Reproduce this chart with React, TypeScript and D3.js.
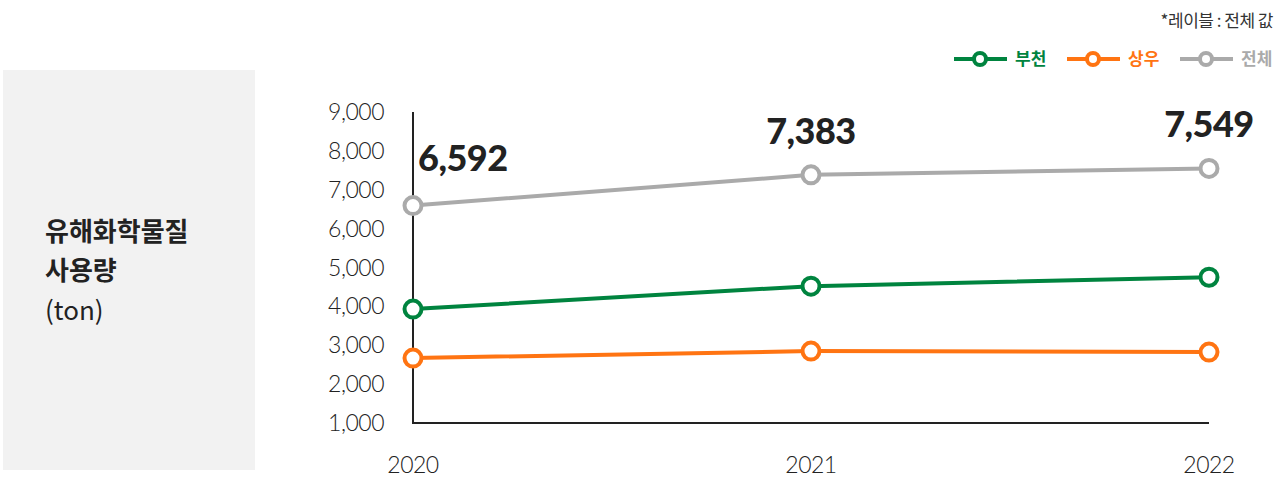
import React from 'react';
import * as d3 from 'd3';

const years = ['2020', '2021', '2022'];
const bucheon = [3930, 4520, 4750];
const sangwoo = [2670, 2850, 2825];
const total = [6592, 7383, 7549];
const yTicks = [1000, 2000, 3000, 4000, 5000, 6000, 7000, 8000, 9000];

const seriesNames = ['부천', '상우', '전체'];
const seriesColors = ['#00843f', '#ff7412', '#aaaaaa'];

const W = 1279;
const H = 477;
const numFont = 'Lato, "Noto Sans", sans-serif';
const krFont = '"Noto Sans CJK KR", "Noto Sans", sans-serif';

export default function App() {
  const x = d3.scalePoint<string>().domain(years).range([413, 1209]);
  const y = d3.scaleLinear().domain([1000, 9000]).range([423, 112]);
  const fmt = d3.format(',');

  const series = [bucheon, sangwoo, total];
  const line = d3
    .line<number>()
    .x((_, i) => x(years[i]) as number)
    .y(d => y(d));

  return (
    <svg
      width={W}
      height={H}
      style={{ position: 'absolute', left: 0, top: 0, background: '#fff' }}
    >
      {/* left title box */}
      <rect x={3} y={70} width={252} height={400} fill="#f2f2f2" />
      <text fontFamily={krFont} fontSize={26} fill="#222">
        <tspan x={45} y={241} fontWeight={700}>유해화학물질</tspan>
        <tspan x={45} y={280} fontWeight={700}>사용량</tspan>
        <tspan x={45} y={320} fontWeight={400}>(ton)</tspan>
      </text>

      {/* note + legend */}
      <text
        x={1273}
        y={27}
        textAnchor="end"
        fontFamily={krFont}
        fontSize={17}
        letterSpacing={-0.5}
        fill="#333"
      >
        *레이블 : 전체 값
      </text>
      {seriesNames.map((name, i) => {
        const lx = [954, 1067, 1180][i];
        return (
          <g key={name}>
            <line x1={lx} x2={lx + 53} y1={59} y2={59} stroke={seriesColors[i]} strokeWidth={4} />
            <circle cx={lx + 26} cy={59} r={6} fill="#fff" stroke={seriesColors[i]} strokeWidth={4} />
            <text
              x={lx + 61}
              y={65}
              fontFamily={krFont}
              fontWeight={700}
              fontSize={17}
              fill={seriesColors[i]}
            >
              {name}
            </text>
          </g>
        );
      })}

      {/* axes */}
      <line x1={413} x2={413} y1={y(9000)} y2={y(1000)} stroke="#222" strokeWidth={2} />
      <line x1={412} x2={x('2022') as number} y1={y(1000)} y2={y(1000)} stroke="#222" strokeWidth={2} />
      {yTicks.map(t => (
        <text
          key={t}
          x={384}
          y={y(t) + 8}
          textAnchor="end"
          fontFamily={numFont}
          fontWeight={300}
          fontSize={23}
          letterSpacing={-0.5}
          fill="#222"
        >
          {fmt(t)}
        </text>
      ))}
      {years.map(yr => (
        <text
          key={yr}
          x={x(yr)}
          y={473}
          textAnchor="middle"
          fontFamily={numFont}
          fontWeight={300}
          fontSize={23}
          letterSpacing={-0.5}
          fill="#222"
        >
          {yr}
        </text>
      ))}

      {/* lines */}
      {series.map((s, si) => (
        <g key={si}>
          <path d={line(s) || ''} fill="none" stroke={seriesColors[si]} strokeWidth={4} />
          {s.map((v, i) => (
            <circle
              key={i}
              cx={x(years[i])}
              cy={y(v)}
              r={8.5}
              fill="#fff"
              stroke={seriesColors[si]}
              strokeWidth={4}
            />
          ))}
        </g>
      ))}

      {/* total value labels */}
      {total.map((v, i) => (
        <text
          key={i}
          x={(x(years[i]) as number) + (i === 0 ? 5 : 0)}
          y={y(v) - (i === 0 ? 35 : 31)}
          textAnchor={i === 0 ? 'start' : 'middle'}
          fontFamily={numFont}
          fontWeight={900}
          fontSize={36}
          letterSpacing={-0.5}
          fill="#222"
        >
          {fmt(v)}
        </text>
      ))}
    </svg>
  );
}
